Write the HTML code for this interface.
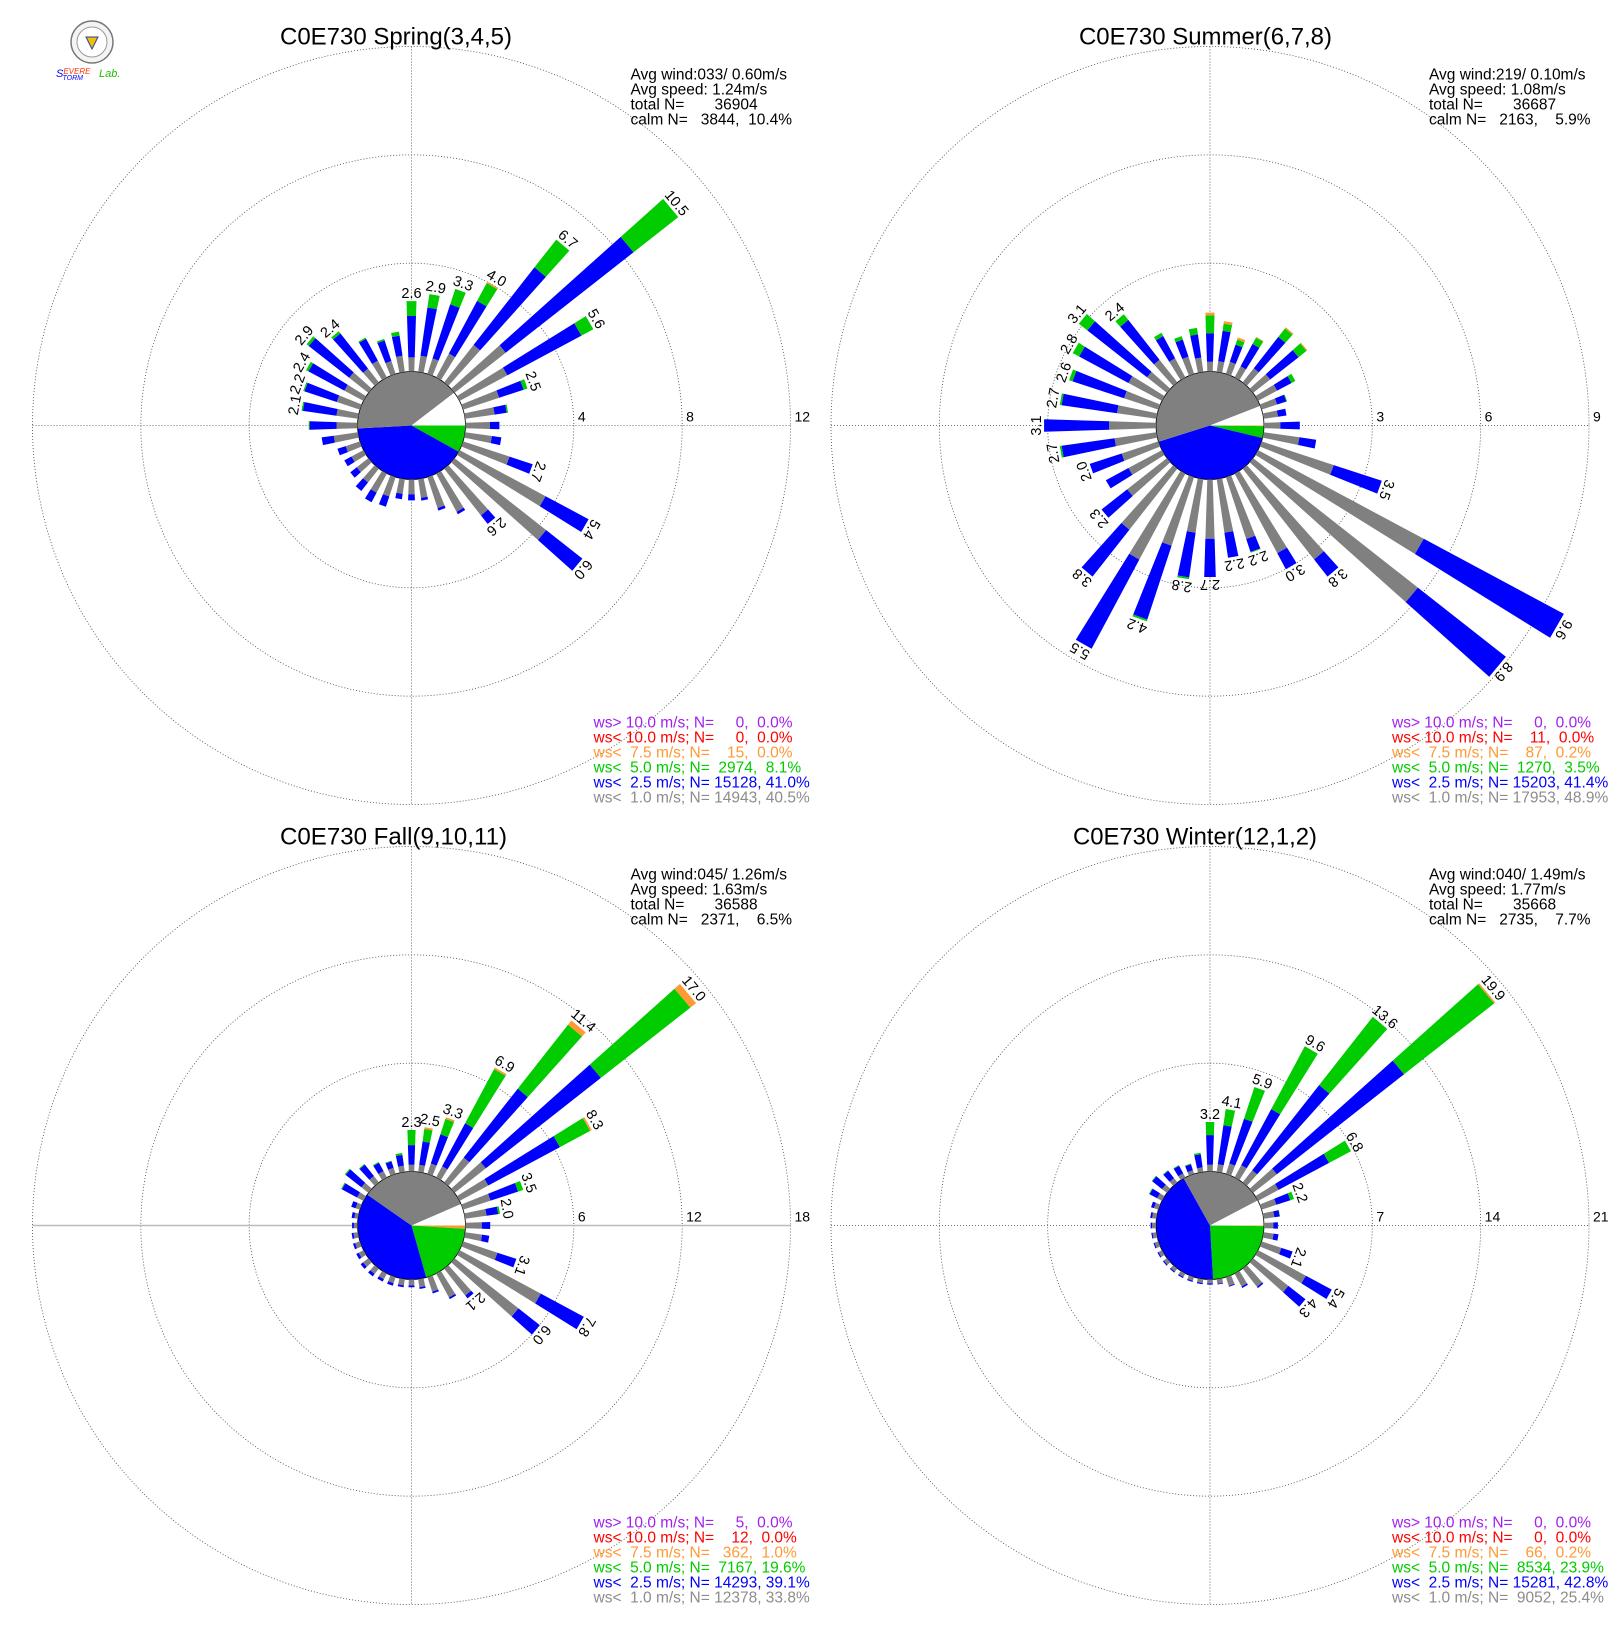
<!DOCTYPE html>
<html><head><meta charset="utf-8"><title>C0E730 seasonal wind roses</title>
<style>
html,body{margin:0;padding:0;background:#fff;}
svg{display:block;font-family:"Liberation Sans",Arial,sans-serif;}
</style></head>
<body>
<svg id="chart" width="1620" height="1640" viewBox="0 0 1620 1640" xmlns="http://www.w3.org/2000/svg">
<rect x="0" y="0" width="1620" height="1640" fill="#fff"/>
<g>
  <circle cx="92" cy="42" r="21" fill="#f4f4f4" stroke="#777" stroke-width="1.5"/>
  <circle cx="92" cy="42" r="15" fill="#fff" stroke="#999" stroke-width="1"/>
  <polygon points="86,37 98,37 92,49" fill="#f2c000" stroke="#2a3fa0" stroke-width="1"/>
  <text x="56" y="77" font-size="11" font-style="italic" fill="#0000ff">S<tspan fill="#ff3300" font-size="8" dy="-3">EVERE</tspan><tspan fill="#0000ff" font-size="7" dx="-28" dy="6">TORM</tspan><tspan fill="#22bb00" font-size="11" dx="16" dy="-3">Lab.</tspan></text>
</g>
<g id="panels"></g>
</svg>
<script>
// ---------- Spring data (percent per speed class, 36 directions from N clockwise) ----------
const directions = [0,10,20,30,40,50,60,70,80,90,100,110,120,130,140,150,160,170,180,190,200,210,220,230,240,250,260,270,280,290,300,310,320,330,340,350];
const springGray  = [.52,.6,.6,1.0,1.76,2.4,2.0,1.4,1.1,.9,1.0,1.8,3.6,4.3,2.2,1.6,1.2,.7,.55,.55,.75,.8,.65,.55,.5,.55,.9,.77,.8,.9,.8,.9,.65,.7,.5,.6];
const springBlue  = [1.53,1.8,2.1,2.2,3.64,6.0,3.1,.95,.45,.35,.35,.9,1.8,1.7,.4,.1,.1,.1,.22,.2,.4,.4,.4,.3,.3,.32,.45,1.0,1.25,1.25,1.5,1.9,1.65,.92,.8,.75];
const springGreen = [.55,.5,.6,.75,1.3,2.1,.5,.15,.05,0,0,0,0,0,0,0,0,0,0,0,0,0,0,0,0,0,0,.03,.05,.05,.1,.1,.1,.05,.06,.15];
const springOrange= [0,0,0,.05,0,0,0,0,0,0,0,0,0,0,0,0,0,0,0,0,0,0,0,0,0,0,0,0,0,0,0,0,0,0,0,0];
const springPie = [0,0,0,8.1,41.0,40.5,10.4];
// ---------- Summer ----------
const summerGray  = [.27,.3,.35,.35,.5,.6,.6,.45,.4,.45,1.0,2.1,5.2,5.8,3.2,2.5,1.8,1.5,1.64,1.5,2.0,2.7,2.15,1.4,1.05,1.07,1.17,1.3,1.1,1.0,1.05,.7,.8,.6,.5,.4];
const summerBlue  = [.79,.85,.5,.7,1.1,1.0,.45,.27,.24,.54,.47,1.4,4.4,3.1,.6,.5,.38,.7,1.06,1.25,2.15,2.8,1.65,.9,.71,.93,1.48,1.8,1.55,1.5,1.55,2.1,1.4,.7,.5,.65];
const summerGreen = [.5,.2,.15,.2,.3,.28,.12,.02,0,0,0,0,0,0,0,0,.02,0,0,.05,.05,0,0,0,0,0,.05,0,.05,.1,.2,.3,.2,.1,.1,.18];
const summerOrange= [.07,.07,.06,.02,.04,.03,0,0,0,0,0,0,0,0,0,0,0,0,0,0,0,0,0,0,0,0,0,0,0,0,0,0,0,0,0,0];
const summerPie = [0,0,.2,3.5,41.4,48.9,5.9];
// ---------- Fall ----------
const fallGray  = [.37,.4,.6,.7,1.75,2.2,1.8,1.6,1.2,.9,.95,2.0,5.1,4.5,1.9,1.5,.85,.45,.33,.35,.35,.35,.38,.38,.3,.28,.25,.2,.2,.25,.4,.5,.45,.4,.35,.35];
const fallBlue  = [1.09,1.3,1.7,2.7,4.85,8.1,4.5,1.6,.65,.47,.4,1.1,2.7,1.5,.2,.1,.1,.1,.1,.1,.15,.15,.17,.17,.15,.12,.1,.1,.15,.25,.95,1.1,.8,.52,.38,.6];
const fallGreen = [.84,.7,.9,3.4,4.5,6.3,1.9,.3,.1,0,0,0,0,0,0,0,0,0,0,0,0,0,0,0,0,0,0,0,0,0,.05,.06,.05,.05,.04,.11];
const fallOrange= [0,.1,.1,.1,.3,.4,.1,0,0,0,0,0,0,0,0,0,0,0,0,0,0,0,0,0,0,0,0,0,0,0,0,0,0,0,0,0];
const fallPie = [0,0,1.0,19.6,39.1,33.8,6.5];
// ---------- Winter ----------
const winterGray  = [.43,.5,.7,.9,1.0,1.95,1.5,1.0,.7,.6,.65,1.34,3.5,2.9,1.5,.95,.6,.3,.25,.25,.25,.25,.25,.25,.25,.25,.25,.25,.28,.3,.35,.4,.35,.3,.25,.3];
const winterBlue  = [1.92,2.55,3.05,4.1,7.0,10.45,3.7,.95,.35,.3,.32,.76,1.9,1.4,.1,.1,.05,.05,.08,.08,.08,.08,.08,.08,.08,.08,.08,.1,.12,.2,.55,.8,.6,.55,.4,.85];
const winterGreen = [.85,1.05,2.15,4.6,5.6,7.4,1.6,.25,.02,0,0,0,0,0,0,0,0,0,0,0,0,0,0,0,0,0,0,0,0,0,.05,.05,.05,.05,.05,.1];
const winterOrange= [0,0,0,0,0,.1,0,0,0,0,0,0,0,0,0,0,0,0,0,0,0,0,0,0,0,0,0,0,0,0,0,0,0,0,0,0];
const winterPie = [0,0,.2,23.9,42.8,25.4,7.7];

const springTicks=[4,8,12], summerTicks=[3,6,9], fallTicks=[6,12,18], winterTicks=[7,14,21];

const panels = [
 {key:'spring', cx:411.5, cy:425.5, max:12, ticks:springTicks, series:[springGray,springBlue,springGreen,springOrange], pie:springPie,
  title:'C0E730 Spring(3,4,5)', tx:280, tw:232,
  info:['Avg wind:033/ 0.60m/s','Avg speed: 1.24m/s','total N=       36904','calm N=   3844,  10.4%'],
  legend:['ws> 10.0 m/s; N=     0,  0.0%','ws< 10.0 m/s; N=     0,  0.0%','ws<  7.5 m/s; N=    15,  0.0%','ws<  5.0 m/s; N=  2974,  8.1%','ws<  2.5 m/s; N= 15128, 41.0%','ws<  1.0 m/s; N= 14943, 40.5%']},
 {key:'summer', cx:1210, cy:425.5, max:9, ticks:summerTicks, series:[summerGray,summerBlue,summerGreen,summerOrange], pie:summerPie,
  title:'C0E730 Summer(6,7,8)', tx:1079, tw:253,
  info:['Avg wind:219/ 0.10m/s','Avg speed: 1.08m/s','total N=       36687','calm N=   2163,    5.9%'],
  legend:['ws> 10.0 m/s; N=     0,  0.0%','ws< 10.0 m/s; N=    11,  0.0%','ws<  7.5 m/s; N=    87,  0.2%','ws<  5.0 m/s; N=  1270,  3.5%','ws<  2.5 m/s; N= 15203, 41.4%','ws<  1.0 m/s; N= 17953, 48.9%']},
 {key:'fall', cx:411.5, cy:1225.5, max:18, ticks:fallTicks, series:[fallGray,fallBlue,fallGreen,fallOrange], pie:fallPie,
  title:'C0E730 Fall(9,10,11)', tx:280, tw:227,
  info:['Avg wind:045/ 1.26m/s','Avg speed: 1.63m/s','total N=       36588','calm N=   2371,    6.5%'],
  legend:['ws> 10.0 m/s; N=     5,  0.0%','ws< 10.0 m/s; N=    12,  0.0%','ws<  7.5 m/s; N=   362,  1.0%','ws<  5.0 m/s; N=  7167, 19.6%','ws<  2.5 m/s; N= 14293, 39.1%','ws<  1.0 m/s; N= 12378, 33.8%']},
 {key:'winter', cx:1210, cy:1225.5, max:21, ticks:winterTicks, series:[winterGray,winterBlue,winterGreen,winterOrange], pie:winterPie,
  title:'C0E730 Winter(12,1,2)', tx:1073, tw:244,
  info:['Avg wind:040/ 1.49m/s','Avg speed: 1.77m/s','total N=       35668','calm N=   2735,    7.7%'],
  legend:['ws> 10.0 m/s; N=     0,  0.0%','ws< 10.0 m/s; N=     0,  0.0%','ws<  7.5 m/s; N=    66,  0.2%','ws<  5.0 m/s; N=  8534, 23.9%','ws<  2.5 m/s; N= 15281, 42.8%','ws<  1.0 m/s; N=  9052, 25.4%']}
];

const NS='http://www.w3.org/2000/svg';
const segColors=['#808080','#0000ff','#00cc00','#ff9933'];
const pieColors=['#a020f0','#ff0000','#ff9933','#00cc00','#0000ff','#808080','#ffffff'];
const legendColors=['#a020f0','#ff0000','#ff9933','#00cc00','#0000ff','#8c8c8c'];
const CALM_R=54, OUTER_R=379;
function mk(tag,attrs,parent){const e=document.createElementNS(NS,tag);for(const k in attrs)e.setAttribute(k,attrs[k]);parent.appendChild(e);return e;}
const root=document.getElementById('panels');

panels.forEach(p=>{
  const g=mk('g',{},root);
  
  
  const rScale=v=>CALM_R+(OUTER_R-CALM_R)*v/p.max;
  const t=mk('text',{x:p.tx,y:p.cy-381,'font-size':24,textLength:p.tw,lengthAdjust:'spacingAndGlyphs',fill:'#000'},g);
  t.textContent=p.title;
  
  
  p.ticks.forEach(tk=>{
    const c=mk('circle',{cx:p.cx,cy:p.cy,r:rScale(tk),fill:'none',stroke:'#444','stroke-width':0.8,'stroke-dasharray':'1 2'},g);
    
    
    const lb=mk('text',{x:p.cx+rScale(tk)+4,y:p.cy-4,'font-size':14,fill:'#000'},g);
    lb.textContent=tk;
    
    
  });
  const hl=mk('line',{x1:p.cx-OUTER_R,y1:p.cy,x2:p.cx+OUTER_R,y2:p.cy,stroke:p.key==='fall'?'#bbb':'#444','stroke-width':p.key==='fall'?1.5:0.8,'stroke-dasharray':p.key==='fall'?'none':'1 2'},g);
  
  
  const vl=mk('line',{x1:p.cx,y1:p.cy-OUTER_R,x2:p.cx,y2:p.cy+OUTER_R,stroke:'#444','stroke-width':0.8,'stroke-dasharray':'1 2'},g);
  
  
  const tot=p.pie.reduce((a,b)=>a+b,0);
  let a0=0;
  p.pie.forEach((pct,i)=>{
    if(pct<=0)return;
    const a1=a0+pct/tot*2*Math.PI;
    const x0=p.cx+CALM_R*Math.cos(a0),y0=p.cy+CALM_R*Math.sin(a0);
    const x1=p.cx+CALM_R*Math.cos(a1),y1=p.cy+CALM_R*Math.sin(a1);
    const large=(a1-a0)>Math.PI?1:0;
    const s=mk('path',{d:`M${p.cx},${p.cy} L${x0},${y0} A${CALM_R},${CALM_R} 0 ${large} 1 ${x1},${y1} Z`,fill:pieColors[i]},g);
    
    
    a0=a1;
  });
  const pc=mk('circle',{cx:p.cx,cy:p.cy,r:CALM_R,fill:'none',stroke:'#000','stroke-width':0.8},g);
  
  
  directions.forEach((d,j)=>{
    const rad=d*Math.PI/180, ux=Math.sin(rad), uy=-Math.cos(rad), nx=Math.cos(rad), ny=Math.sin(rad);
    let cum=0;
    p.series.forEach((ser,k)=>{
      const v=ser[j]; if(v<=0)return;
      const r0=rScale(cum), r1=rScale(cum+v); cum+=v;
      const h0=(2+0.064*r0)/2, h1=(2+0.064*r1)/2;
      const pts=[[r0,h0],[r1,h1],[r1,-h1],[r0,-h0]].map(([r,h])=>(p.cx+ux*r+nx*h).toFixed(1)+','+(p.cy+uy*r+ny*h).toFixed(1)).join(' ');
      const b=mk('polygon',{points:pts,fill:segColors[k]},g);
      
      
    });
    if(cum>=1.95){
      const rt=rScale(cum)+3;
      const lx=p.cx+ux*rt, ly=p.cy+uy*rt;
      const lb=mk('text',{x:lx.toFixed(1),y:ly.toFixed(1),'font-size':14.5,'text-anchor':'middle',transform:`rotate(${d} ${lx.toFixed(1)} ${ly.toFixed(1)})`,fill:'#000'},g);
      lb.textContent=cum.toFixed(1);
      
      
    }
  });
  p.info.forEach((s,i)=>{
    const it=mk('text',{x:p.cx+219,y:p.cy-346+i*15,'font-size':15.5,fill:'#000'},g);
    it.setAttribute('style','white-space:pre');
    it.textContent=s;
    
    
  });
  p.legend.forEach((s,i)=>{
    const lt=mk('text',{x:p.cx+182,y:p.cy+302+i*15,'font-size':15.5,fill:legendColors[i]},g);
    lt.setAttribute('style','white-space:pre');
    lt.textContent=s;
    
    
  });
});
</script>
</body></html>
